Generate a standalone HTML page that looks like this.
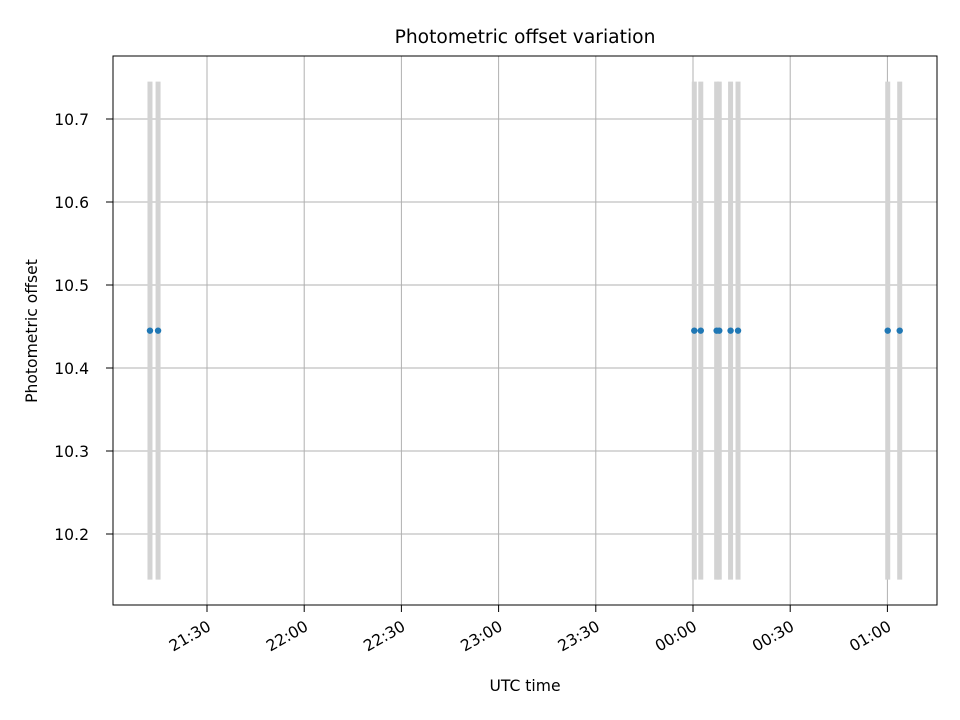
<!DOCTYPE html>
<html><head><meta charset="utf-8"><style>body{margin:0;background:#fff}svg{display:block;font-family:"DejaVu Sans","Liberation Sans",sans-serif}</style></head>
<body>
<svg id="c" width="960" height="720"></svg>
<script>
// minutes relative to 00:00 UTC
const times=[-167.6,-165.1,0.4,2.4,7.3,8.1,11.6,13.9,60.1,63.8];
const values=[10.445,10.445,10.445,10.445,10.445,10.445,10.445,10.445,10.445,10.445];
const errors=[0.30,0.30,0.30,0.30,0.30,0.30,0.30,0.30,0.30,0.30];
const xTicks=[-150,-120,-90,-60,-30,0,30,60];
const xTickLabels=["21:30","22:00","22:30","23:00","23:30","00:00","00:30","01:00"];
const yTicks=[10.2,10.3,10.4,10.5,10.6,10.7];
const yTickLabels=["10.2","10.3","10.4","10.5","10.6","10.7"];
const NS="http://www.w3.org/2000/svg",svg=document.getElementById('c');
const L=113,R=937,T=56,B=605;
const xs=m=>693+(m)*97.2/30;
const ys=v=>119+(10.7-v)*830;
function el(t,a,p){const e=document.createElementNS(NS,t);for(const k in a)e.setAttribute(k,a[k]);(p||svg).appendChild(e);return e;}
el('rect',{x:0,y:0,width:960,height:720,fill:'#fff'});
xTicks.forEach((t,i)=>{const x=xs(t);
const g=el('line',{x1:x,x2:x,y1:T,y2:B,stroke:'#b0b0b0','stroke-width':1});

el('line',{x1:x,x2:x,y1:B,y2:B+7,stroke:'#000'});
const ax=x-1,ay=B+14;
const tx=el('text',{x:ax,y:ay+12,'font-size':15.6,'text-anchor':'end',transform:`rotate(-30 ${ax} ${ay})`});
tx.textContent=xTickLabels[i];
});
yTicks.forEach((t,i)=>{const y=ys(t);
const g=el('line',{x1:L,x2:R,y1:y,y2:y,stroke:'#b0b0b0','stroke-width':1});

el('line',{x1:L-7,x2:L,y1:y,y2:y,stroke:'#000'});
const tx=el('text',{x:L-24,y:y+6,'font-size':15.6,'text-anchor':'end'});
tx.textContent=yTickLabels[i];
});
times.forEach((t,i)=>{const x=xs(t);
const e=el('line',{x1:x,x2:x,y1:ys(values[i]+errors[i]),y2:ys(values[i]-errors[i]),stroke:'#d3d3d3','stroke-width':5});
});
times.forEach((t,i)=>{
const c=el('circle',{cx:xs(t),cy:ys(values[i]),r:3.2,fill:'#1f77b4'});
});
const f=el('rect',{x:L,y:T,width:R-L,height:B-T,fill:'none',stroke:'#000','stroke-width':1});

let t=el('text',{x:525,y:43,'font-size':18.7,'text-anchor':'middle'});t.textContent='Photometric offset variation';

t=el('text',{x:525,y:691,'font-size':15.6,'text-anchor':'middle'});t.textContent='UTC time';

t=el('text',{x:37,y:331,'font-size':15.6,'text-anchor':'middle',transform:'rotate(-90 37 331)'});t.textContent='Photometric offset';

</script>
</body></html>
